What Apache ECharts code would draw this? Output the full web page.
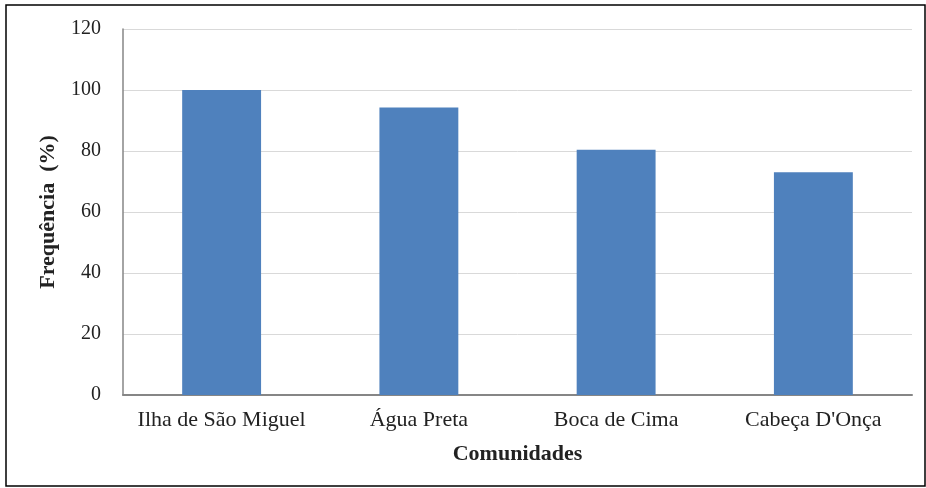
<!DOCTYPE html>
<html>
<head>
<meta charset="utf-8">
<script src="https://cdn.jsdelivr.net/npm/echarts@6/dist/echarts.min.js"></script>
<style>
html,body{margin:0;padding:0;background:#fff;}
#chart{width:926px;height:488px;}
</style>
</head>
<body>
<div id="chart"></div>
<script>
const categories = ["Ilha de São Miguel", "Água Preta", "Boca de Cima", "Cabeça D'Onça"];
const frequencia = [100, 94.3, 80.4, 73.0];
const yTicks = { min: 0, max: 120, interval: 20 };

const chart = echarts.init(document.getElementById('chart'));
const font = '"Liberation Serif", "Times New Roman", serif';
chart.setOption({
  animation: false,
  backgroundColor: '#fff',
  graphic: [{
    type: 'rect',
    shape: { x: 6, y: 5, width: 919, height: 481 },
    style: { fill: 'none', stroke: '#000', lineWidth: 1.5 },
    silent: true
  }],
  grid: { left: 123, right: 14, top: 29, bottom: 93 },
  xAxis: {
    type: 'category',
    data: categories,
    name: 'Comunidades',
    nameLocation: 'middle',
    nameGap: 48,
    nameTextStyle: { fontFamily: font, fontSize: 22, fontWeight: 'bold', color: '#222' },
    axisLine: { lineStyle: { color: '#868686', width: 2 } },
    axisTick: { show: false },
    axisLabel: { fontFamily: font, fontSize: 22, color: '#222', margin: 14, interval: 0 }
  },
  yAxis: {
    type: 'value',
    min: yTicks.min, max: yTicks.max, interval: yTicks.interval,
    name: 'Frequência  (%)',
    nameLocation: 'middle',
    nameGap: 64,
    nameTextStyle: { fontFamily: font, fontSize: 22, fontWeight: 'bold', color: '#222' },
    axisLine: { show: true, lineStyle: { color: '#868686', width: 1.5 } },
    axisTick: { show: false },
    axisLabel: { fontFamily: font, fontSize: 20, color: '#222', margin: 22 },
    splitLine: { lineStyle: { color: '#d9d9d9', width: 1 } }
  },
  series: [{
    type: 'bar',
    data: frequencia,
    barCategoryGap: '60%',
    itemStyle: { color: '#4f81bd' }
  }]
});
</script>
</body>
</html>
